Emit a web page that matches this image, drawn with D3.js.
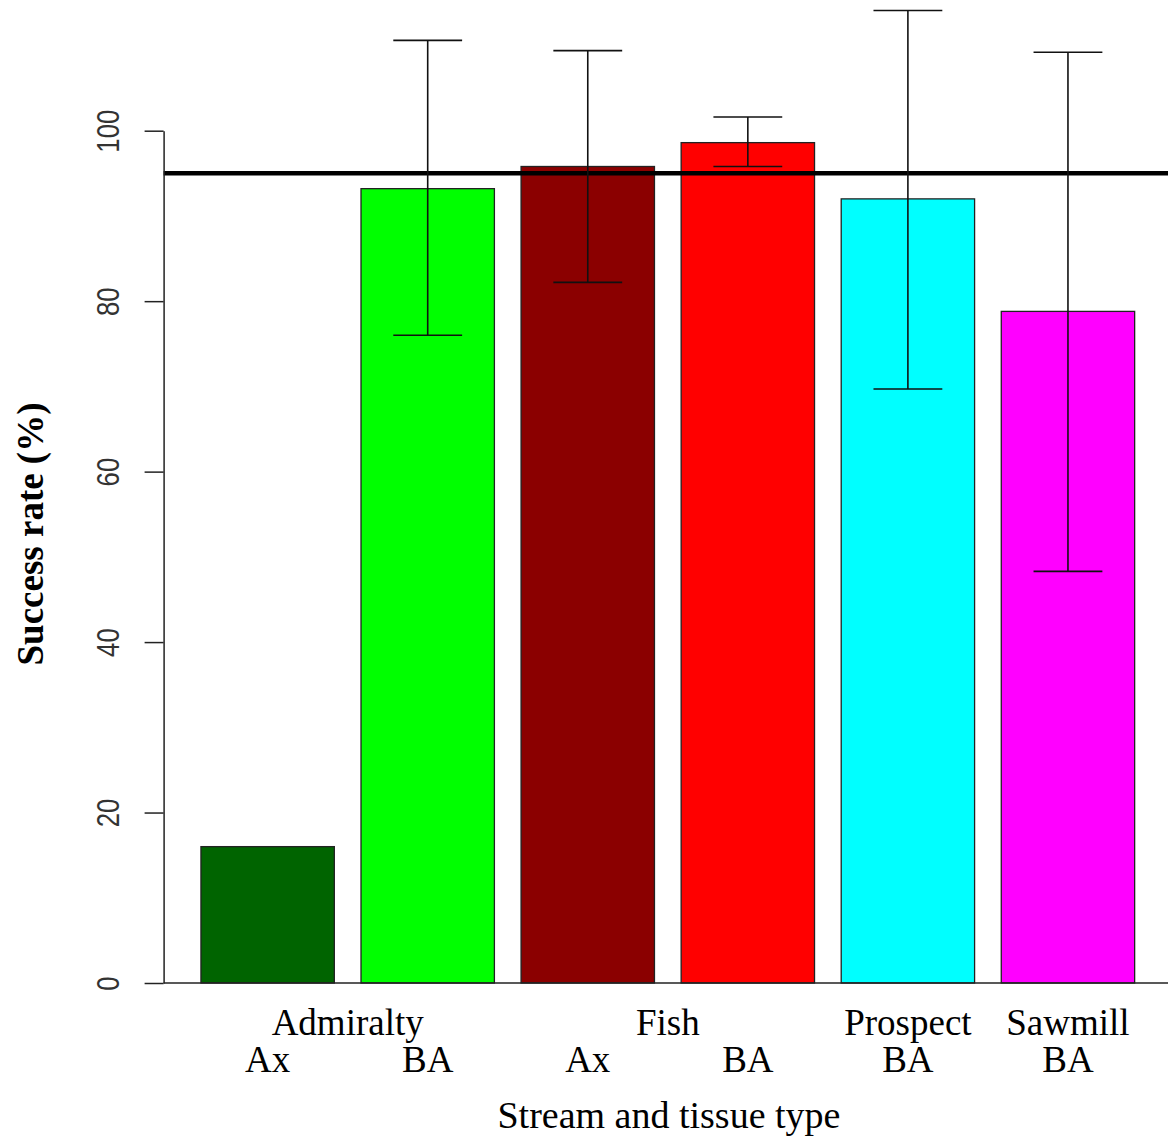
<!DOCTYPE html>
<html>
<head>
<meta charset="utf-8">
<script src="https://cdn.jsdelivr.net/npm/d3@7"></script>
<style>
  html, body { margin: 0; padding: 0; background: #fff; }
  svg { display: block; }
</style>
</head>
<body>
<svg id="chart"></svg>
<script>
// chart values
var streams = ["Admiralty", "Fish", "Prospect", "Sawmill"];
var tissues = ["Ax", "BA", "Ax", "BA", "BA", "BA"];
var barStream = ["Admiralty", "Admiralty", "Fish", "Fish", "Prospect", "Sawmill"];
var success = [16.0, 93.2, 95.8, 98.6, 92.0, 78.8];
var errLow = [null, 76.0, 82.2, 95.8, 69.7, 48.3];
var errHigh = [null, 110.6, 109.4, 101.6, 114.1, 109.2];
var barColors = ["#006400", "#00ff00", "#8b0000", "#ff0000", "#00ffff", "#ff00ff"];
var yTicks = [0, 20, 40, 60, 80, 100];
var targetLine = 95;

var w = 1168;
var h = 1142;

// R barplot style: width 1, space 0.2
var barW = 1, space = 0.2;
var lefts = success.map(function (d, i) { return space + i * (barW + space); });
var xmin = lefts[0], xmax = lefts[lefts.length - 1] + barW;
var pad = (xmax - xmin) * 0.04;

var x = d3.scaleLinear().domain([xmin - pad, xmax + pad]).range([163.6, 1172]);
var y = d3.scaleLinear().domain([0, 100]).range([983, 130.7]);

var svg = d3.select("#chart").attr("width", w).attr("height", h);

// bars
svg.append("g").selectAll("rect")
    .data(success)
    .enter().append("rect")
    .attr("x", function (d, i) { return x(lefts[i]); })
    .attr("width", function (d, i) { return x(lefts[i] + barW) - x(lefts[i]); })
    .attr("y", function (d) { return y(d); })
    .attr("height", function (d) { return y(0) - y(d); })
    .attr("fill", function (d, i) { return barColors[i]; })
    .attr("stroke", "#222")
    .attr("stroke-width", 1.3);

// baseline and 95% reference line across the plot region
svg.append("line")
    .attr("x1", x.range()[0]).attr("x2", w)
    .attr("y1", y(0)).attr("y2", y(0))
    .attr("stroke", "#222").attr("stroke-width", 1.5);

svg.append("line")
    .attr("x1", x.range()[0]).attr("x2", w)
    .attr("y1", y(targetLine)).attr("y2", y(targetLine))
    .attr("stroke", "#000").attr("stroke-width", 4.5);

// error bars
var errs = success.map(function (d, i) {
    return { c: lefts[i] + barW / 2, lo: errLow[i], hi: errHigh[i] };
}).filter(function (d) { return d.lo != null; });

var eg = svg.append("g").attr("stroke", "#111").attr("stroke-width", 1.6);
errs.forEach(function (e) {
    eg.append("line")
        .attr("x1", x(e.c)).attr("x2", x(e.c))
        .attr("y1", y(e.lo)).attr("y2", y(e.hi));
    [e.lo, e.hi].forEach(function (v) {
        eg.append("line")
            .attr("x1", x(e.c - 0.258)).attr("x2", x(e.c + 0.258))
            .attr("y1", y(v)).attr("y2", y(v));
    });
});

// y axis
var yAxis = svg.append("g")
    .attr("transform", "translate(" + x.range()[0] + ",0)")
    .call(d3.axisLeft(y).tickValues(yTicks).tickSize(19).tickSizeOuter(0));
yAxis.select(".domain").attr("stroke", "#222").attr("stroke-width", 1.5);
yAxis.selectAll(".tick line").attr("stroke", "#222").attr("stroke-width", 1.5);
yAxis.selectAll(".tick text")
    .attr("x", null).attr("dy", null)
    .attr("transform", "translate(-45,0) rotate(-90)")
    .attr("text-anchor", "middle")
    .attr("font-family", "'Liberation Sans', Arial, sans-serif")
    .attr("font-size", 31)
    .attr("fill", "#333")
    .attr("textLength", function (d) { return String(d).length * 14.3; })
    .attr("lengthAdjust", "spacingAndGlyphs");

// y title
svg.append("text")
    .attr("transform", "translate(43," + 534 + ") rotate(-90)")
    .attr("text-anchor", "middle")
    .attr("font-family", "'Liberation Serif', 'Times New Roman', serif")
    .attr("font-weight", "bold")
    .attr("font-size", 37)
    .text("Success rate (%)");

// x labels: stream name on first line, tissue type on second
var serif = "'Liberation Serif', 'Times New Roman', serif";
streams.forEach(function (s) {
    var idx = [];
    barStream.forEach(function (b, i) { if (b === s) idx.push(i); });
    var c = d3.mean(idx, function (i) { return lefts[i] + barW / 2; });
    svg.append("text")
        .attr("x", x(c)).attr("y", 1035)
        .attr("text-anchor", "middle")
        .attr("font-family", serif).attr("font-size", 37)
        .text(s);
});

svg.append("g").selectAll("text")
    .data(tissues)
    .enter().append("text")
    .attr("x", function (d, i) { return x(lefts[i] + barW / 2); })
    .attr("y", 1072)
    .attr("text-anchor", "middle")
    .attr("font-family", serif).attr("font-size", 37)
    .text(function (d) { return d; });

// x title
svg.append("text")
    .attr("x", (163.6 + 1174.3) / 2).attr("y", 1128)
    .attr("text-anchor", "middle")
    .attr("font-family", serif).attr("font-size", 38)
    .text("Stream and tissue type");
</script>
</body>
</html>
